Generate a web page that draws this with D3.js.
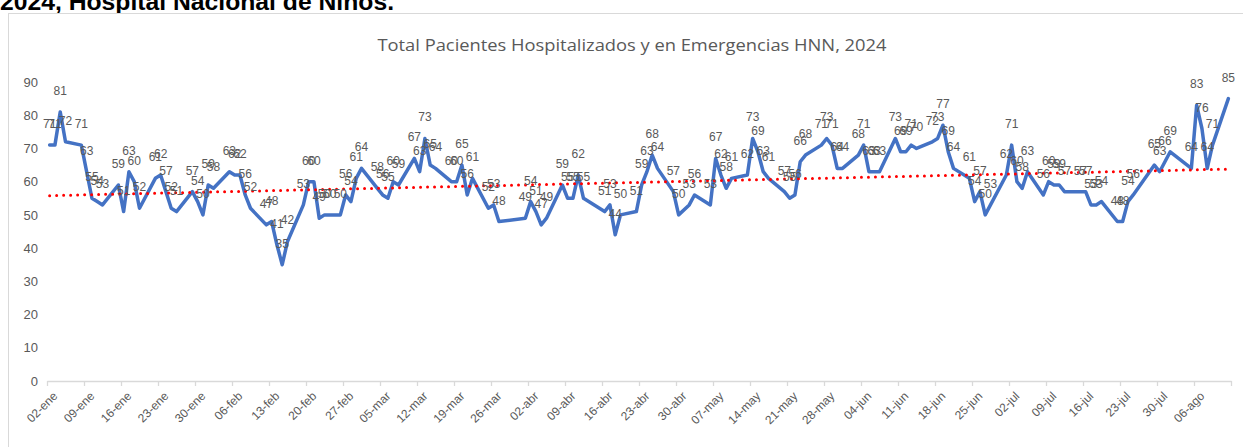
<!DOCTYPE html>
<html><head><meta charset="utf-8">
<script src="https://cdn.jsdelivr.net/npm/d3@7"></script>
<style>
html,body{margin:0;padding:0;background:#fff;overflow:hidden}
svg{display:block}
</style></head><body>
<svg id="chart" width="1243" height="447"></svg>
<script>
// ---- data ----
const fechas = [
"01-02","01-03","01-04","01-05","01-08","01-09","01-10","01-11","01-12",
"01-15","01-16","01-17","01-18","01-19","01-22","01-23","01-24","01-25","01-26",
"01-29","01-30","01-31","02-01","02-02","02-05","02-06","02-07","02-08","02-09",
"02-12","02-13","02-14","02-15","02-16","02-19","02-20","02-21","02-22","02-23","02-24",
"02-26","02-27","02-28","02-29","03-01","03-04","03-05","03-06","03-07","03-08",
"03-11","03-12","03-13","03-14","03-15","03-18","03-19","03-20","03-21","03-22",
"03-25","03-26","03-27","04-01","04-02","04-03","04-04","04-05",
"04-08","04-09","04-10","04-11","04-12","04-16","04-17","04-18","04-19",
"04-22","04-23","04-24","04-25","04-26","04-29","04-30","05-02","05-03",
"05-06","05-07","05-08","05-09","05-10","05-13","05-14","05-15","05-16","05-17",
"05-20","05-21","05-22","05-23","05-24","05-27","05-28","05-29","05-30","05-31",
"06-03","06-04","06-05","06-06","06-07","06-10","06-11","06-12","06-13","06-14",
"06-17","06-18","06-19","06-20","06-21","06-24","06-25","06-26","06-27","06-28",
"07-01","07-02","07-03","07-04","07-05","07-08","07-09","07-10","07-11","07-12",
"07-15","07-16","07-17","07-18","07-19","07-22","07-23","07-24","07-25",
"07-29","07-30","07-31","08-01","08-05","08-06","08-07","08-08","08-09","08-12"
];
const valores = [
71,71,81,72,71,63,55,54,53,
59,51,63,60,52,61,62,57,52,51,
57,54,50,59,58,63,62,62,56,52,
47,48,41,35,42,53,60,60,49,50,50,
50,56,54,61,64,58,56,55,60,59,
67,63,73,65,64,60,60,65,56,61,
52,53,48,49,54,51,47,49,
59,55,55,62,55,51,53,44,50,
51,59,63,68,64,57,50,53,56,
53,67,62,58,61,62,73,69,63,61,
57,55,56,66,68,71,73,71,64,64,
68,71,63,63,63,73,69,69,71,70,
72,73,77,69,64,61,54,57,50,53,
62,71,60,58,63,56,60,59,59,57,
57,57,53,53,54,48,48,54,56,
65,63,66,69,64,83,76,64,71,85
];
const yTicks = [0,10,20,30,40,50,60,70,80,90];
const meses = ["ene","feb","mar","abr","may","jun","jul","ago"];
const titulo = "Total Pacientes Hospitalizados y en Emergencias HNN, 2024";
const encabezado = "2024, Hospital Nacional de Niños.";
const anio = 2024;
const ejeInicio = "01-02", ejeFin = "08-13";

// ---- build ----
const parse = d3.timeParse("%Y-%m-%d");
const data = fechas.map((f,i)=>({date: parse(anio+"-"+f), v: valores[i]}));
const t0 = parse(anio+"-"+ejeInicio), t1 = parse(anio+"-"+ejeFin);

const svg = d3.select("#chart");
const FONT = "'Liberation Sans', Arial, sans-serif";

// heading (cut off at the top in the reference)
svg.append("text").attr("x",0).attr("y",10)
  .attr("font-family",FONT).attr("font-weight","bold").attr("font-size",24)
  .attr("textLength",394).attr("lengthAdjust","spacingAndGlyphs")
  .attr("fill","#000").text(encabezado);

// chart frame
svg.append("rect").attr("x",8.5).attr("y",13.5).attr("width",1250).attr("height",450)
  .attr("fill","#fff").attr("stroke","#d9d9d9").attr("stroke-width",1);

// title
svg.append("text").attr("x",632).attr("y",51).attr("text-anchor","middle")
  .attr("font-family","'Open Sans', sans-serif").attr("font-size",16)
  .attr("fill","#595959").attr("textLength",509).attr("lengthAdjust","spacingAndGlyphs")
  .text(titulo);

const x = d3.scaleTime().domain([t0,t1]).range([47,1231]);
const y = d3.scaleLinear().domain([0,90]).range([381,82]);
const mid = d => d3.timeHour.offset(d,12);

// y axis labels
const yAxis = d3.axisLeft(y).tickValues(yTicks).tickSize(0).tickPadding(3);
const gy = svg.append("g").attr("transform","translate(41,0)").call(yAxis);
gy.select(".domain").remove();
gy.selectAll("text").attr("font-family",FONT).attr("font-size",13).attr("fill","#595959");

// x axis
const nWeeks = Math.round((t1 - t0)/(7*864e5));
const tickDates = d3.range(0,nWeeks+1).map(k=>d3.timeDay.offset(t0,7*k));
const fmt = d => d3.timeFormat("%d")(d)+"-"+meses[d.getMonth()];
const xAxis = d3.axisBottom(x).tickValues(tickDates).tickSize(5).tickSizeOuter(0)
  .tickFormat((d,i)=> i===tickDates.length-1 ? "" : fmt(d));
const gx = svg.append("g").attr("transform","translate(0,381)").call(xAxis);
gx.select(".domain").attr("stroke","#d9d9d9").attr("stroke-width",1.3);
gx.selectAll(".tick line").attr("stroke","#d9d9d9").attr("stroke-width",1.3);
gx.selectAll("text").attr("font-family",FONT).attr("font-size",12).attr("fill","#595959")
  .attr("text-anchor","end").attr("transform","translate(0,5) rotate(-45)")
  .attr("dy","0.6em").attr("dx","0");

// series line
const line = d3.line().x(d=>x(mid(d.date))).y(d=>y(d.v));
svg.append("path").datum(data).attr("d",line).attr("fill","none")
  .attr("stroke","#4472C4").attr("stroke-width",3.5).attr("stroke-linejoin","round")
  .attr("stroke-linecap","round");

// linear trend line (least squares on date)
const xs = data.map(d=>(d.date - t0)/864e5), ys = data.map(d=>d.v);
const mx = d3.mean(xs), my = d3.mean(ys);
const slope = d3.sum(xs.map((xi,i)=>(xi-mx)*(ys[i]-my))) / d3.sum(xs.map(xi=>(xi-mx)*(xi-mx)));
const icpt = my - slope*mx;
const trend = [data[0], data[data.length-1]].map(d=>({date:d.date, v: icpt + slope*((d.date-t0)/864e5)}));
svg.append("path").datum(trend).attr("d",line).attr("fill","none")
  .attr("stroke","#FF0000").attr("stroke-width",3).attr("stroke-linecap","round")
  .attr("stroke-dasharray","0 7");

// data labels
svg.append("g").selectAll("text").data(data).join("text")
  .attr("x",d=>x(mid(d.date))).attr("y",d=>y(d.v)-17)
  .attr("text-anchor","middle").attr("font-family",FONT).attr("font-size",12)
  .attr("fill","#595959").text(d=>d.v);
</script>
</body></html>
